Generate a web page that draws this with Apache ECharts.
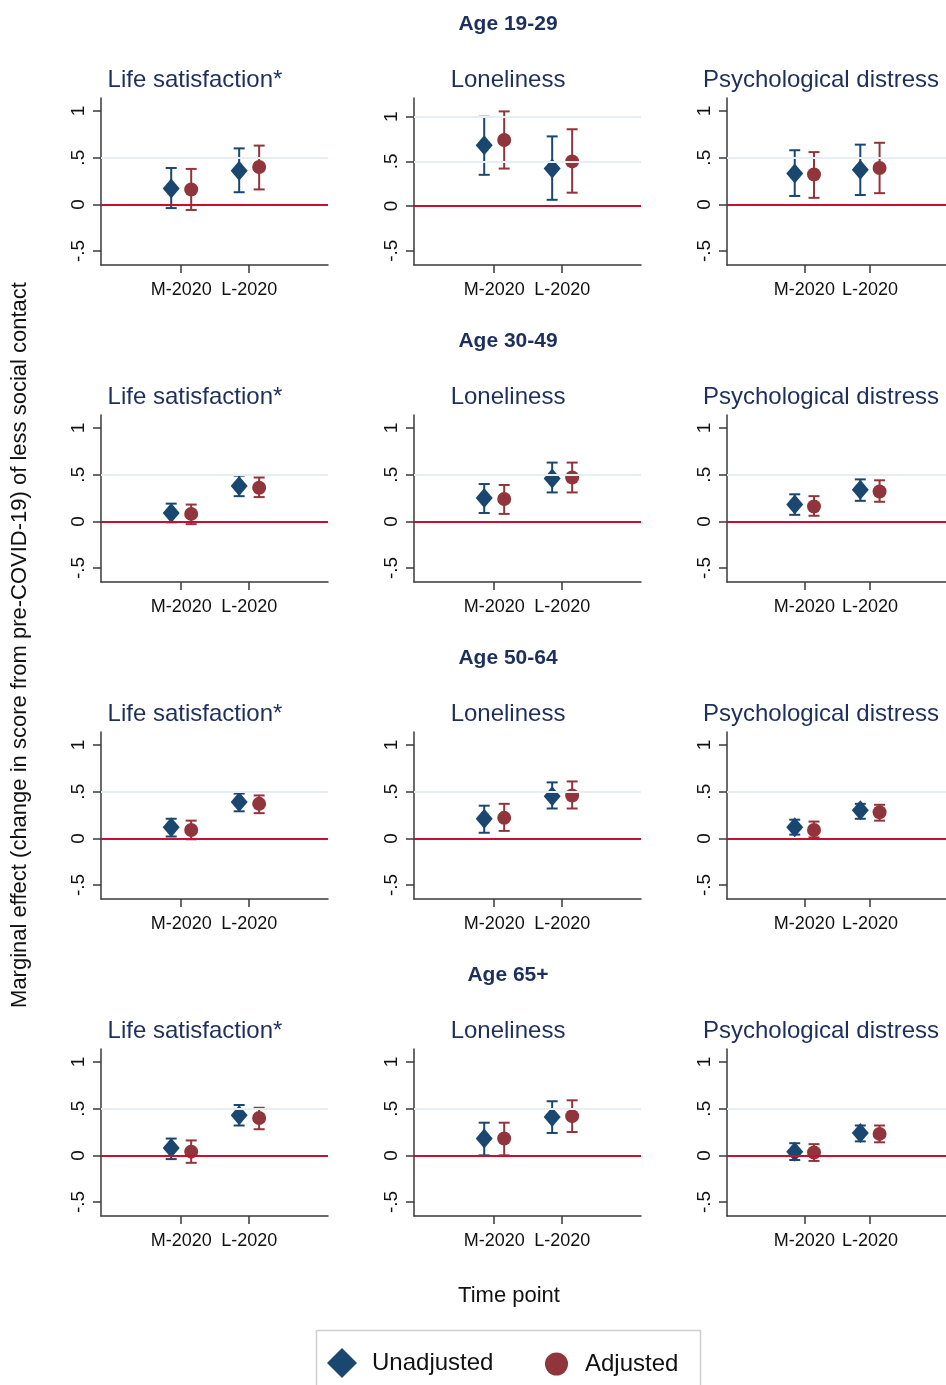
<!DOCTYPE html>
<html>
<head>
<meta charset="utf-8">
<script src="https://cdn.jsdelivr.net/npm/echarts@6/dist/echarts.min.js"></script>
<style>
html,body{margin:0;padding:0;background:#fff;}
#chart{width:946px;height:1385px;}
</style>
</head>
<body>
<div id="chart"></div>
<script>
// ---------------- DATA ----------------
const categories = ['M-2020', 'L-2020'];
const ageGroups = ['Age 19-29', 'Age 30-49', 'Age 50-64', 'Age 65+'];
const outcomes = ['Life satisfaction*', 'Loneliness', 'Psychological distress'];
const yTickValues = [-0.5, 0, 0.5, 1];
const yTickLabels = ['-.5', '0', '.5', '1'];
const legendNames = ['Unadjusted', 'Adjusted'];
const xTitle = 'Time point';
const yTitle = 'Marginal effect (change in score from pre-COVID-19) of less social contact';

// each row = age group; values ordered: LifeSat M, L, Loneliness M, L, PsychDist M, L
const unadjEst = [
  [0.17, 0.36, 0.68, 0.42, 0.33, 0.37],
  [0.09, 0.38, 0.25, 0.46, 0.18, 0.34],
  [0.12, 0.39, 0.21, 0.45, 0.12, 0.30],
  [0.08, 0.43, 0.18, 0.41, 0.04, 0.24]
];
const unadjLo = [
  [-0.04, 0.13, 0.35, 0.07, 0.09, 0.10],
  [-0.01, 0.27, 0.09, 0.31, 0.07, 0.22],
  [0.02, 0.29, 0.06, 0.32, 0.04, 0.21],
  [-0.04, 0.32, 0.00, 0.24, -0.05, 0.15]
];
const unadjHi = [
  [0.39, 0.60, 1.00, 0.78, 0.58, 0.64],
  [0.19, 0.49, 0.40, 0.63, 0.29, 0.45],
  [0.21, 0.48, 0.35, 0.60, 0.20, 0.37],
  [0.18, 0.54, 0.35, 0.58, 0.13, 0.32]
];
const adjEst = [
  [0.16, 0.40, 0.74, 0.50, 0.32, 0.39],
  [0.08, 0.36, 0.24, 0.47, 0.16, 0.32],
  [0.09, 0.37, 0.22, 0.46, 0.09, 0.28],
  [0.04, 0.40, 0.18, 0.42, 0.03, 0.23]
];
const adjLo = [
  [-0.06, 0.16, 0.42, 0.15, 0.07, 0.12],
  [-0.03, 0.26, 0.08, 0.31, 0.06, 0.21],
  [-0.01, 0.27, 0.08, 0.32, 0.01, 0.19],
  [-0.08, 0.28, 0.00, 0.25, -0.06, 0.14]
];
const adjHi = [
  [0.38, 0.63, 1.06, 0.86, 0.56, 0.66],
  [0.18, 0.47, 0.39, 0.63, 0.27, 0.44],
  [0.19, 0.46, 0.37, 0.61, 0.18, 0.36],
  [0.16, 0.51, 0.35, 0.59, 0.12, 0.32]
];

// ---------------- STYLE / LAYOUT ----------------
const FONT = '"Liberation Sans", Arial, Helvetica, sans-serif';
const NAVY = '#1a476f';
const MAROON = '#90353b';
const TITLE_COLOR = '#1d2f5d';
const ZERO_COLOR = '#c8102e';
const GRID_COLOR = '#e6eef2';
const AXIS_COLOR = '#3a3a3a';
const OFFSET = 0.147;   // horizontal dodge of the two series (x units)

const chart = echarts.init(document.getElementById('chart'), null, {renderer: 'canvas', width: 946, height: 1385});

const grids = [], xAxes = [], yAxes = [], series = [], graphics = [];

function errorBarSeries(name, color, data, gi) {
  return {
    type: 'custom',
    name: name,
    xAxisIndex: gi, yAxisIndex: gi,
    z: 2,
    silent: true,
    encode: {x: 0, y: [1, 2]},
    data: data,
    renderItem: function (params, api) {
      const x = api.value(0), lo = api.value(1), hi = api.value(2);
      const pt = api.coord([x, hi]);
      const pb = api.coord([x, lo]);
      const cw = 5.5;
      const st = {stroke: color, lineWidth: 2, fill: null};
      return {
        type: 'group',
        children: [
          {type: 'line', shape: {x1: pt[0], y1: pt[1], x2: pb[0], y2: pb[1]}, style: st},
          {type: 'line', shape: {x1: pt[0] - cw, y1: pt[1], x2: pt[0] + cw, y2: pt[1]}, style: st},
          {type: 'line', shape: {x1: pb[0] - cw, y1: pb[1], x2: pb[0] + cw, y2: pb[1]}, style: st}
        ]
      };
    }
  };
}

for (let r = 0; r < ageGroups.length; r++) {
  // row title
  graphics.push({
    type: 'text', x: 508, y: 24 + 317 * r,
    style: {text: ageGroups[r], font: 'bold 21px ' + FONT, fill: TITLE_COLOR, textAlign: 'center', textVerticalAlign: 'middle'}
  });
  for (let c = 0; c < outcomes.length; c++) {
    const gi = r * outcomes.length + c;
    const left = 101 + 313 * c;
    const top = 98 + 317 * r;
    grids.push({left: left, top: top, width: 227, height: 167, containLabel: false});

    // panel title
    graphics.push({
      type: 'text', x: [195, 508, 821][c], y: 80 + 317 * r,
      style: {text: outcomes[c], font: '24px ' + FONT, fill: TITLE_COLOR, textAlign: 'center', textVerticalAlign: 'middle'}
    });

    const wide = (r === 0 && c === 1);
    const catPos = categories.map((_, k) => k + 1);

    xAxes.push({
      type: 'value', gridIndex: gi, min: -0.18, max: 3.16,
      axisLine: {show: true, onZero: false, lineStyle: {color: AXIS_COLOR, width: 1.5}},
      axisTick: {show: true, length: 8, customValues: catPos, lineStyle: {color: AXIS_COLOR, width: 1.5}},
      axisLabel: {
        show: true, customValues: catPos, margin: 16,
        formatter: v => categories[Math.round(v) - 1] || '',
        fontFamily: FONT, fontSize: 18, color: '#111'
      },
      splitLine: {show: false}
    });
    yAxes.push({
      type: 'value', gridIndex: gi,
      min: wide ? -0.66 : -0.65, max: wide ? 1.21 : 1.14,
      axisLine: {show: true, onZero: false, lineStyle: {color: AXIS_COLOR, width: 1.5}},
      axisTick: {show: true, length: 8, customValues: yTickValues, lineStyle: {color: AXIS_COLOR, width: 1.5}},
      axisLabel: {
        show: true, customValues: yTickValues, rotate: 90, margin: 13,
        formatter: v => {
          const k = yTickValues.findIndex(t => Math.abs(t - v) < 1e-6);
          return k >= 0 ? yTickLabels[k] : '';
        },
        fontFamily: FONT, fontSize: 19, color: '#111'
      },
      splitLine: {show: false}
    });

    const gridLines = wide ? [{yAxis: 0.5}, {yAxis: 1}] : [{yAxis: 0.5}];

    const k0 = c * 2;
    const uPts = categories.map((_, t) => [t + 1 - OFFSET, unadjEst[r][k0 + t]]);
    const aPts = categories.map((_, t) => [t + 1 + OFFSET, adjEst[r][k0 + t]]);
    const uBars = categories.map((_, t) => [t + 1 - OFFSET, unadjLo[r][k0 + t], unadjHi[r][k0 + t]]);
    const aBars = categories.map((_, t) => [t + 1 + OFFSET, adjLo[r][k0 + t], adjHi[r][k0 + t]]);

    // reference lines (gridline at .5, red zero line)
    series.push({
      type: 'line', name: 'ref', xAxisIndex: gi, yAxisIndex: gi, data: [], silent: true, z: 1,
      markLine: {
        silent: true, symbol: ['none', 'none'], label: {show: false}, animation: false,
        data: gridLines.map(d => Object.assign({}, d, {lineStyle: {color: GRID_COLOR, width: 2, type: 'solid'}}))
          .concat([{yAxis: 0, lineStyle: {color: ZERO_COLOR, width: 2.2, type: 'solid'}}])
      }
    });
    series.push(errorBarSeries('Unadjusted CI', NAVY, uBars, gi));
    series.push(errorBarSeries('Adjusted CI', MAROON, aBars, gi));
    series.push({
      type: 'scatter', name: legendNames[0], xAxisIndex: gi, yAxisIndex: gi, z: 3,
      symbol: 'diamond', symbolSize: [17, 20], itemStyle: {color: NAVY, opacity: 1}, data: uPts
    });
    series.push({
      type: 'scatter', name: legendNames[1], xAxisIndex: gi, yAxisIndex: gi, z: 3,
      symbol: 'circle', symbolSize: 14, itemStyle: {color: MAROON, opacity: 1}, data: aPts
    });
  }
}

// axis titles
graphics.push({
  type: 'text', x: 20, y: 645, rotation: Math.PI / 2,
  style: {text: yTitle, font: '22px ' + FONT, fill: '#111', textAlign: 'center', textVerticalAlign: 'middle'}
});
graphics.push({
  type: 'text', x: 509, y: 1296,
  style: {text: xTitle, font: '22px ' + FONT, fill: '#111', textAlign: 'center', textVerticalAlign: 'middle'}
});
// legend frame
graphics.push({
  type: 'rect', shape: {x: 316.5, y: 1330.5, width: 384, height: 70},
  style: {fill: 'none', stroke: '#cfcfcf', lineWidth: 1.5}, z: 0
});

const option = {
  animation: false,
  backgroundColor: '#ffffff',
  textStyle: {fontFamily: FONT},
  grid: grids,
  xAxis: xAxes,
  yAxis: yAxes,
  legend: [
    {
      data: [{name: legendNames[0], icon: 'diamond', itemStyle: {color: NAVY}}],
      left: 322, top: 1343, itemWidth: 30, itemHeight: 30, selectedMode: false,
      textStyle: {fontFamily: FONT, fontSize: 24, color: '#111', padding: [0, 0, 0, 10]}
    },
    {
      data: [{name: legendNames[1], icon: 'circle', itemStyle: {color: MAROON}}],
      left: 540, top: 1347, itemWidth: 23, itemHeight: 23, selectedMode: false,
      textStyle: {fontFamily: FONT, fontSize: 24, color: '#111', padding: [0, 0, 0, 12]}
    }
  ],
  graphic: graphics,
  series: series
};
chart.setOption(option);
</script>
</body>
</html>
